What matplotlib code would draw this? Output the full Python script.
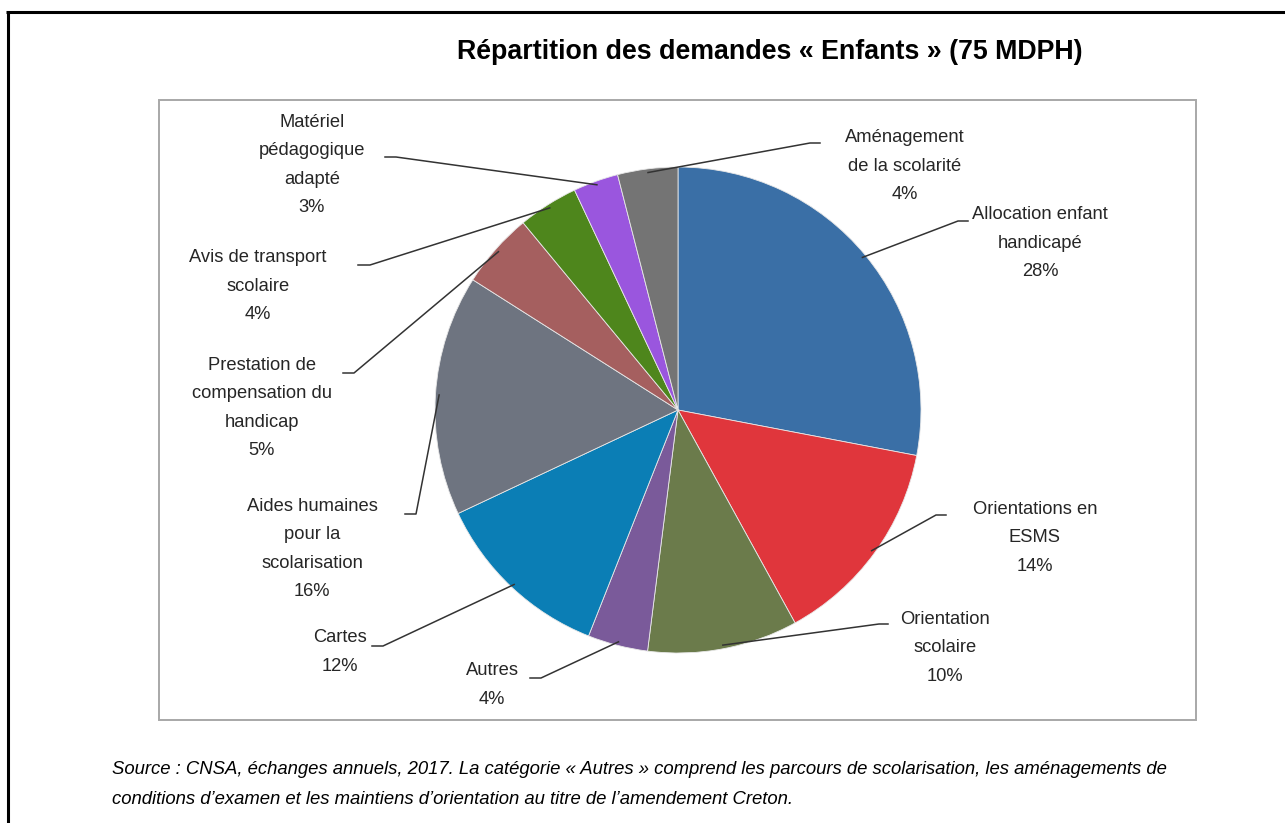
import numpy as np
import matplotlib.pyplot as plt
from matplotlib.patches import Rectangle

plt.rcParams['font.family'] = ['Liberation Sans', 'DejaVu Sans']

# data (clockwise from 12 o'clock)
labels = ["Allocation enfant\nhandicapé", "Orientations en\nESMS", "Orientation\nscolaire",
          "Autres", "Cartes", "Aides humaines\npour la\nscolarisation",
          "Prestation de\ncompensation du\nhandicap", "Avis de transport\nscolaire",
          "Matériel\npédagogique\nadapté", "Aménagement\nde la scolarité"]
values = [28, 14, 10, 4, 12, 16, 5, 4, 3, 4]
colors = ["#3A6FA6", "#E0363C", "#6B7B4B", "#7A5A9A", "#0B7EB5",
          "#6E7480", "#A55F5F", "#4E861C", "#9A56DE", "#747474"]

title = "Répartition des demandes « Enfants » (75 MDPH)"
source1 = ("Source : CNSA, échanges annuels, 2017. La catégorie « Autres » comprend les parcours "
           "de scolarisation, les aménagements de")
source2 = "conditions d’examen et les maintiens d’orientation au titre de l’amendement Creton."

W, H = 1285, 823
def Y(y):
    return H - y

# label layout: text centre and elbow (pixel coords of the picture)
text_pos = [(1040, 243), (1035, 538), (945, 648), (492, 685), (340, 652),
            (312, 549), (262, 408), (258, 286), (312, 165), (905, 166)]
elbow = [((968, 221), (958, 221)), ((946, 515), (936, 515)), ((888, 624), (879, 624)),
         ((530, 678), (541, 678)), ((372, 646), (383, 646)), ((405, 514), (416, 514)),
         ((343, 373), (354, 373)), ((358, 265), (370, 265)), ((385, 157), (396, 157)),
         ((820, 143), (810, 143))]

fig = plt.figure(figsize=(W / 100, H / 100), dpi=100)
ax = fig.add_axes([0, 0, 1, 1])

# frames
ax.plot([6, W], [Y(12), Y(12)], color='black', lw=2.2, solid_capstyle='butt')
ax.plot([8, 8], [Y(12), 0], color='black', lw=2.2, solid_capstyle='butt')
ax.add_patch(Rectangle((159, Y(720)), 1196 - 159, 620, fill=False,
                       edgecolor='#A8A8A8', lw=1.4))

cx, cy, r = 678, Y(410), 243
wedges, _ = ax.pie(values, colors=colors, startangle=90, counterclock=False,
                   center=(cx, cy), radius=r, frame=True,
                   wedgeprops=dict(edgecolor='#E8E8E8', linewidth=0.6))
ax.set_xlim(0, W)
ax.set_ylim(0, H)
ax.set_aspect('equal')
ax.axis('off')

for w, lab, v, (tx, ty), (e1, e2) in zip(wedges, labels, values, text_pos, elbow):
    a = np.deg2rad((w.theta1 + w.theta2) / 2)
    px, py = cx + 0.985 * r * np.cos(a), cy + 0.985 * r * np.sin(a)
    ax.plot([px, e2[0], e1[0]], [py, Y(e2[1]), Y(e1[1])], color='#333333', lw=1.1)
    ax.text(tx, Y(ty), f"{lab}\n{v}%", ha='center', va='center', fontsize=13.2,
            linespacing=1.85, color='#262626')

ax.text(770, Y(52), title, ha='center', va='center', fontsize=19.3, fontweight='bold')
ax.text(112, Y(770), source1, ha='left', va='center', fontsize=13.3, style='italic')
ax.text(112, Y(800), source2, ha='left', va='center', fontsize=13.3, style='italic')

fig.savefig('out.png', dpi=100)
